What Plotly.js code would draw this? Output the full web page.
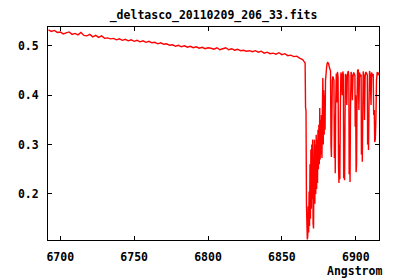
<!DOCTYPE html>
<html>
<head>
<meta charset="utf-8">
<script src="https://cdn.plot.ly/plotly-3.0.1.min.js"></script>
<style>html,body{margin:0;padding:0;background:#fff;}#chart{width:400px;height:280px;}</style>
</head>
<body>
<div id="chart"></div>
<script>
var chartTitle = "_deltasco_20110209_206_33.fits";
var xLabel = "Angstrom";
var xTicks = [6700, 6750, 6800, 6850, 6900];
var yTicks = [0.2, 0.3, 0.4, 0.5];

// continuum part (Angstrom, flux)
var contWave = [6692,6694,6696,6698,6700,6702,6704,6706,6708,6710,6712,6714,6716,6718,6720,6722,6724,6726,6728,6730,
 6732,6734,6736,6738,6740,6742,6744,6746,6748,6750,6752,6754,6756,6758,6760,6762,6764,6766,6768,6770,
 6772,6774,6776,6778,6780,6782,6784,6786,6788,6790,6792,6794,6796,6798,6800,6802,6804,6806,6808,6810,
 6812,6814,6816,6818,6820,6822,6824,6826,6828,6830,6832,6834,6836,6838,6840,6842,6844,6846,6848,6850,
 6852,6854,6856,6858,6860,6862,6864,6865,6865.7];
var contFlux = [0.532,0.529,0.531,0.527,0.528,0.524,0.526,0.528,0.523,0.525,0.522,0.527,0.521,0.520,0.523,0.518,0.521,0.517,0.520,0.515,
 0.516,0.514,0.515,0.512,0.514,0.511,0.513,0.510,0.512,0.509,0.511,0.508,0.510,0.507,0.509,0.506,0.507,0.504,0.506,0.503,
 0.504,0.501,0.502,0.499,0.501,0.498,0.500,0.497,0.499,0.496,0.498,0.495,0.497,0.494,0.496,0.495,0.493,0.496,0.492,0.494,
 0.496,0.492,0.494,0.491,0.493,0.490,0.491,0.489,0.490,0.488,0.490,0.487,0.489,0.485,0.487,0.484,0.485,0.483,0.486,0.482,
 0.484,0.480,0.481,0.478,0.479,0.475,0.472,0.468,0.465];

// O2 B-band absorption part (Angstrom, flux)
var bandWave = [6866.0,6866.3,6866.6,6866.9,6867.2,6867.5,6867.8,6868.1,6868.4,6868.7,6869.0,6869.3,6869.6,6869.9,6870.2,6870.5,6870.8,6871.1,6871.4,6871.7,
 6872.0,6872.3,6872.6,6872.9,6873.2,6873.5,6873.8,6874.1,6874.4,6874.7,6875.0,6875.3,6875.6,6875.9,6876.2,6876.5,6876.8,6877.1,6877.4,6877.7,
 6878.0,6878.3,6878.6,6878.9,6879.2,6879.5,6879.8,6880.2,6880.6,6881.0,6881.5,6882.0,6882.5,6882.9,
 6883.2,6883.5,6883.8,6884.1,6884.5,
 6885.2,6885.5,6885.8,6886.1,6886.4,6886.8,6887.2,6887.6,6888.0,
 6888.3,6888.6,6888.9,6889.2,6889.5,6889.9,6890.4,6890.8,6891.2,
 6891.6,6891.8,6892.1,6892.4,6892.7,6893.0,6893.5,6893.9,6894.3,6894.9,
 6895.3,6895.5,6895.8,6896.1,6896.4,6896.8,6897.3,6897.7,6898.1,6898.6,
 6899.4,6899.6,6899.9,6900.2,6900.5,6900.8,6901.2,6901.7,6902.1,6902.5,6903.0,
 6903.6,6903.8,6904.1,6904.4,6904.7,6905.0,6905.5,6905.9,6906.3,6906.8,
 6907.8,6908.0,6908.3,6908.6,6908.9,6909.3,6909.8,6910.3,6910.7,6911.2,
 6911.8,6912.1,6912.5,6912.8,6913.2,6913.6,6914.0,6914.5,6915.0,6915.6];
var bandFlux = [0.374,0.370,0.182,0.140,0.108,0.115,0.175,0.122,0.205,0.135,0.260,0.150,0.290,0.170,0.300,0.190,0.310,0.140,0.130,0.250,
 0.310,0.180,0.300,0.200,0.320,0.210,0.310,0.222,0.330,0.250,0.340,0.260,0.374,0.270,0.350,0.280,0.360,0.273,0.370,0.435,
 0.300,0.410,0.320,0.400,0.330,0.430,0.440,0.455,0.464,0.466,0.465,0.458,0.452,0.450,
 0.300,0.275,0.350,0.430,0.438,
 0.430,0.273,0.360,0.242,0.380,0.444,0.385,0.447,0.436,
 0.260,0.222,0.300,0.230,0.360,0.446,0.439,0.400,0.448,
 0.441,0.232,0.300,0.228,0.350,0.443,0.437,0.380,0.441,0.449,
 0.438,0.240,0.300,0.224,0.370,0.447,0.440,0.390,0.437,0.446,
 0.440,0.336,0.400,0.244,0.260,0.380,0.450,0.452,0.370,0.446,0.438,
 0.442,0.280,0.340,0.265,0.360,0.448,0.439,0.350,0.437,0.447,
 0.441,0.300,0.350,0.289,0.370,0.449,0.440,0.380,0.446,0.438,
 0.443,0.360,0.370,0.305,0.310,0.350,0.430,0.447,0.440,0.446];

var wave = contWave.concat(bandWave);
var flux = contFlux.concat(bandFlux);

var fnt = {family: "DejaVu Sans Mono, monospace", size: 11.5, color: "#000", weight: "bold"};

var trace = {
  x: wave, y: flux, type: "scatter", mode: "lines",
  line: {color: "#ff0000", width: 1.4, simplify: false},
  hoverinfo: "skip"
};

var layout = {
  width: 400, height: 280,
  margin: {l: 48, r: 21, t: 27, b: 40},
  paper_bgcolor: "#fff", plot_bgcolor: "#fff",
  showlegend: false,
  font: fnt,
  title: {text: chartTitle, font: fnt, x: 0.5339, xanchor: "center", y: 0.945, yanchor: "middle", yref: "container"},
  xaxis: {
    range: [6691.7, 6915.7], tickvals: xTicks, ticktext: xTicks.map(String),
    ticks: "inside", ticklen: 4, tickcolor: "#000", tickwidth: 1,
    showline: true, linecolor: "#000", linewidth: 1, mirror: "ticks",
    showgrid: false, zeroline: false, tickfont: fnt, ticklabelstandoff: 6
  },
  yaxis: {
    range: [0.1068, 0.538], tickvals: yTicks, ticktext: yTicks.map(function(v){return v.toFixed(1);}),
    ticks: "inside", ticklen: 4, tickcolor: "#000", tickwidth: 1,
    showline: true, linecolor: "#000", linewidth: 1, mirror: "ticks",
    showgrid: false, zeroline: false, tickfont: fnt, ticklabelstandoff: 6
  },
  annotations: [{
    text: xLabel, xref: "paper", yref: "paper", x: 1.015, y: -0.146,
    xanchor: "right", yanchor: "middle", showarrow: false, font: fnt
  }]
};

Plotly.newPlot("chart", [trace], layout, {staticPlot: true, displayModeBar: false});
</script>
</body>
</html>
